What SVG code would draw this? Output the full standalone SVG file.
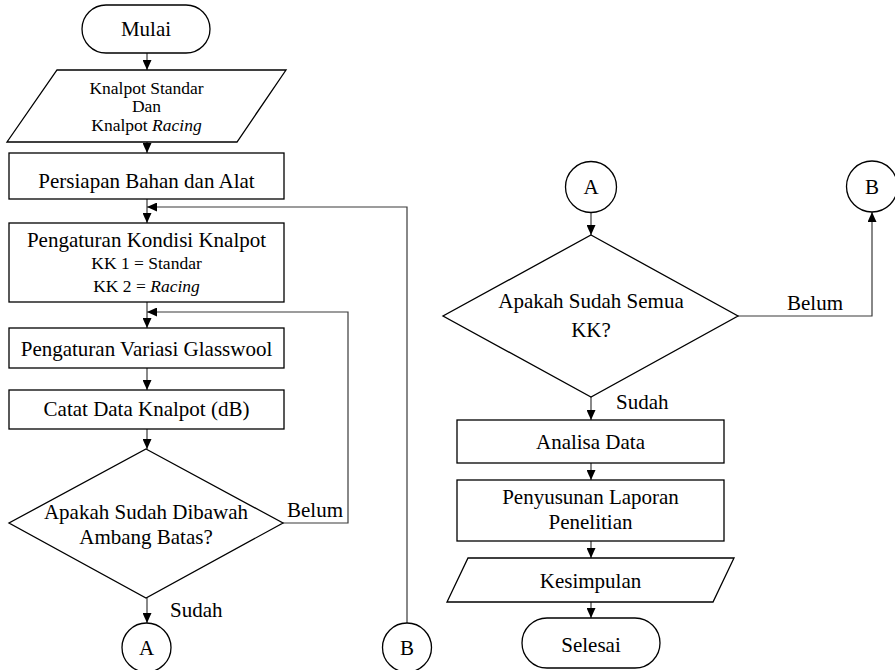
<svg xmlns="http://www.w3.org/2000/svg" width="895" height="670" viewBox="0 0 895 670">
<defs>
<marker id="ah" markerUnits="userSpaceOnUse" markerWidth="10" markerHeight="9" refX="10" refY="4.5" orient="auto">
<path d="M0,0 L10,4.5 L0,9 Z" fill="#000"/>
</marker>
<style>
.s{fill:#fff;stroke:#000;stroke-width:1.3}
.c{fill:none;stroke:#3a3a3a;stroke-width:1.2}
text{font-family:"Liberation Serif","Times New Roman",serif;fill:#000;text-anchor:middle}
.t{font-size:21px}
.m{font-size:17.5px}
.l{text-anchor:start}
</style>
</defs>
<rect width="895" height="670" fill="#fff"/>
<g id="connectors">
<line class="c" x1="147" y1="53" x2="147" y2="70" marker-end="url(#ah)"/>
<line class="c" x1="147" y1="142" x2="147" y2="153" marker-end="url(#ah)"/>
<line class="c" x1="147" y1="199" x2="147" y2="223" marker-end="url(#ah)"/>
<line class="c" x1="147" y1="302" x2="147" y2="328" marker-end="url(#ah)"/>
<line class="c" x1="147" y1="368" x2="147" y2="390" marker-end="url(#ah)"/>
<line class="c" x1="147" y1="429" x2="147" y2="449" marker-end="url(#ah)"/>
<line class="c" x1="147" y1="598" x2="147" y2="623" marker-end="url(#ah)"/>
<polyline class="c" points="283,523 348,523 348,312 147,312" marker-end="url(#ah)"/>
<polyline class="c" points="407,623 407,207 147,207" marker-end="url(#ah)"/>
<line class="c" x1="591" y1="213" x2="591" y2="235" marker-end="url(#ah)"/>
<line class="c" x1="591" y1="397" x2="591" y2="420" marker-end="url(#ah)"/>
<line class="c" x1="591" y1="463" x2="591" y2="480" marker-end="url(#ah)"/>
<line class="c" x1="591" y1="541" x2="591" y2="558" marker-end="url(#ah)"/>
<line class="c" x1="591" y1="602" x2="591" y2="618" marker-end="url(#ah)"/>
<polyline class="c" points="738,316 872,316 872,212" marker-end="url(#ah)"/>
</g>
<g id="mulai">
<rect class="s" x="82" y="5" width="128" height="48" rx="24" ry="24"/>
<text class="t" x="146" y="36">Mulai</text>
</g>
<g id="input">
<polygon class="s" points="57,70 286,70 237,142 7,142"/>
<text class="m" x="146.5" y="93.5">Knalpot Standar</text>
<text class="m" x="146.5" y="112">Dan</text>
<text class="m" x="146.5" y="131">Knalpot <tspan font-style="italic">Racing</tspan></text>
</g>
<g id="persiapan">
<rect class="s" x="9" y="153" width="275" height="46"/>
<text class="t" x="146.5" y="188">Persiapan Bahan dan Alat</text>
</g>
<g id="kondisi">
<rect class="s" x="9" y="223" width="275" height="79"/>
<text class="t" x="146.5" y="247">Pengaturan Kondisi Knalpot</text>
<text class="m" x="146.5" y="269">KK 1 = Standar</text>
<text class="m" x="146.5" y="292">KK 2 = <tspan font-style="italic">Racing</tspan></text>
</g>
<g id="variasi">
<rect class="s" x="9" y="328" width="275" height="40"/>
<text class="t" x="146.5" y="355.5">Pengaturan Variasi Glasswool</text>
</g>
<g id="catat">
<rect class="s" x="9" y="390" width="275" height="39"/>
<text class="t" x="146.5" y="416">Catat Data Knalpot (dB)</text>
</g>
<g id="decision1">
<polygon class="s" points="146,449 283,523 146,598 9,523"/>
<text class="t" x="146" y="519">Apakah Sudah Dibawah</text>
<text class="t" x="146" y="543.5">Ambang Batas?</text>
</g>
<g id="label-belum1"><text class="t l" x="287" y="517">Belum</text></g>
<g id="label-sudah1"><text class="t l" x="170" y="617">Sudah</text></g>
<g id="connA1">
<circle class="s" cx="146.5" cy="647.5" r="24.5"/>
<text class="t" x="146.5" y="654.5">A</text>
</g>
<g id="connB1">
<circle class="s" cx="407" cy="647.5" r="24.5"/>
<text class="t" x="407" y="654.5">B</text>
</g>
<g id="connA2">
<circle class="s" cx="591" cy="187" r="25.5"/>
<text class="t" x="591" y="194">A</text>
</g>
<g id="connB2">
<circle class="s" cx="872" cy="186.5" r="25.5"/>
<text class="t" x="872" y="193.5">B</text>
</g>
<g id="decision2">
<polygon class="s" points="591,235 738,316 591,397 443,316"/>
<text class="t" x="591" y="308">Apakah Sudah Semua</text>
<text class="t" x="591" y="337">KK?</text>
</g>
<g id="label-belum2"><text class="t l" x="787" y="310">Belum</text></g>
<g id="label-sudah2"><text class="t l" x="616" y="409">Sudah</text></g>
<g id="analisa">
<rect class="s" x="457" y="420" width="267" height="43"/>
<text class="t" x="590.5" y="449">Analisa Data</text>
</g>
<g id="laporan">
<rect class="s" x="457" y="480" width="267" height="61"/>
<text class="t" x="590.5" y="504">Penyusunan Laporan</text>
<text class="t" x="590.5" y="529">Penelitian</text>
</g>
<g id="kesimpulan">
<polygon class="s" points="468,558 734,558 713,602 447,602"/>
<text class="t" x="590.5" y="588">Kesimpulan</text>
</g>
<g id="selesai">
<rect class="s" x="522" y="618" width="138" height="50" rx="25" ry="25"/>
<text class="t" x="591" y="652">Selesai</text>
</g>
</svg>
